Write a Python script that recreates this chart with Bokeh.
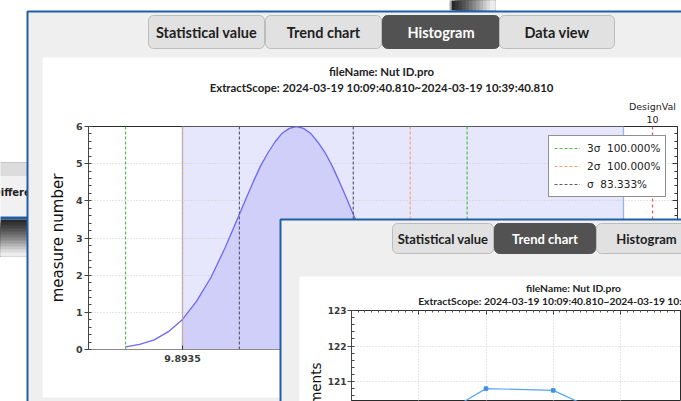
import math
from bokeh.plotting import figure
from bokeh.models import (Range1d, BoxAnnotation, Label, Legend, LegendItem,
                          FixedTicker, SingleIntervalTicker, LinearAxis)
from bokeh.embed import file_html
from bokeh.resources import INLINE

# ---------------- data ----------------
MAIN_TABS = ["Statistical value", "Trend chart", "Histogram", "Data view"]
MAIN_ACTIVE = "Histogram"
TREND_TABS = ["Statistical value", "Trend chart", "Histogram"]
TREND_ACTIVE = "Trend chart"
FILE_NAME = "fileName: Nut ID.pro"
EXTRACT_SCOPE = "ExtractScope: 2024-03-19 10:09:40.810~2024-03-19 10:39:40.810"
SIDE_WINDOW_TEXT = "Difference"

curve_x = [9.8806, 9.8838, 9.8871, 9.8903, 9.8935, 9.8967, 9.9000, 9.9032, 9.9064,
           9.9080, 9.9096, 9.9112, 9.9129, 9.9145, 9.9161, 9.9177, 9.9193,
           9.9209, 9.9225, 9.9241, 9.9258, 9.9274, 9.9290, 9.9306, 9.9322,
           9.9354, 9.9387, 9.9419, 9.9451, 9.9483, 9.9516, 9.9548, 9.9580]
curve_y = [0.07, 0.14, 0.26, 0.48, 0.81, 1.30, 1.95, 2.75, 3.64,
           4.09, 4.53, 4.94, 5.30, 5.59, 5.82, 5.95, 6.00,
           5.95, 5.82, 5.59, 5.30, 4.94, 4.53, 4.09, 3.64,
           2.75, 1.95, 1.30, 0.81, 0.48, 0.26, 0.14, 0.07]
LSL = 9.8935
USL = 9.9935
DESIGN_VAL = 10
sigma_names = ["3σ", "2σ", "σ"]
sigma_lines = [[9.8806, 9.9580], [9.8935, 9.9451], [9.9064, 9.9322]]
sigma_pct = ["100.000%", "100.000%", "83.333%"]
hist_x_ticks = [9.8935]
hist_y_label = "measure number"

trend_x = [1, 2, 3, 4]
trend_y = [119.69, 120.80, 120.75, 119.88]
trend_y_label = "measurements"

# ---------------- styles ----------------
W, H = 681, 401
BLUE = "#1f5ea6"
WIN_BG = "#efefef"
TAB_FILL = "#e1e1e1"
TAB_LINE = "#bcbcbc"
TAB_ACTIVE = "#525252"
UI_FONT = "Lato"
NUM_FONT = "DejaVu Sans"
SIGMA_COLORS = ["#4cbf4c", "#f5a36e", "#5c5c6e"]
SHADE = ["#2a2a2a", "#363636", "#444444", "#535353", "#646464", "#767676",
         "#898989", "#9d9d9d", "#b2b2b2", "#c7c7c7", "#dbdbdb", "#ececec"]
ABS = {"position": "absolute", "left": "0px", "top": "0px"}


def canvas_figure(fill_white=False):
    """A full-window figure whose frame covers the canvas (page pixel coordinates)."""
    f = figure(width=W, height=H, output_backend="svg", toolbar_location=None, title=None,
               x_range=Range1d(0, W), y_range=Range1d(H, 0), min_border=0,
               x_axis_location=None, y_axis_location=None)
    f.grid.visible = False
    f.outline_line_color = None
    f.border_fill_alpha = 0
    f.background_fill_color = "white"
    f.background_fill_alpha = 1 if fill_white else 0
    f.styles = dict(ABS)
    return f


def box(fig, l, r, t, b, fill, line=None, lw=1, radius=0, level="annotation"):
    fig.add_layout(BoxAnnotation(left=l, right=r, top=t, bottom=b,
                                 fill_color=fill, fill_alpha=1,
                                 line_color=line, line_width=lw, line_alpha=1,
                                 level=level, border_radius=radius))


def label(fig, x, y, text, size, color="#1e1e1e", font=UI_FONT, style="normal",
          align="center", baseline="middle", xr="default", angle=0):
    fig.add_layout(Label(x=x, y=y, x_range_name=xr, text=text,
                         text_font=font, text_font_size=f"{size}px", text_font_style=style,
                         text_color=color, text_align=align, text_baseline=baseline,
                         angle=angle))


def tabs(fig, names, active_name, lefts, rights, top, bottom, size):
    for name, l, r in zip(names, lefts, rights):
        active = name == active_name
        box(fig, l, r, top, bottom, TAB_ACTIVE if active else TAB_FILL,
            TAB_ACTIVE if active else TAB_LINE, 1, 5)
        cx = (l + r) / 2 if r < W else l + 50
        label(fig, cx, (top + bottom) / 2, name, size,
              "white" if active else "#1e1e1e", UI_FONT, "bold")


# ---------------- layer 1: windows behind + main window chrome ----------------
bg = canvas_figure(fill_white=True)
# hist data mapping expressed over the whole window (for the DesignVal caption)
bg.extra_x_ranges = {"hx": Range1d(9.85226, 10.00658)}

box(bg, -20, 27, 162, 175, "#dcdcdc", "#c6c6c6")
box(bg, -20, 27, 175, 216, "#f1f1f1")
label(bg, -8, 192, SIDE_WINDOW_TEXT, 10, "#222", NUM_FONT, "bold", align="left")
box(bg, -20, 27, 216, 219, BLUE)
# shadows of the windows behind (nested bands, darkest first)
for i, c in enumerate(SHADE):
    box(bg, -20, 27, 219 + 3 * i, 256, c)
box(bg, 449, 451, -5, 10, "#b0b0b0")
for i, c in enumerate(SHADE):
    box(bg, 451 + 3.5 * i, 495, -5, 10, c)

box(bg, 27, 760, 11, 460, WIN_BG, BLUE, 2)
box(bg, 42, 760, 57, 397, "white")
tabs(bg, MAIN_TABS, MAIN_ACTIVE, [148, 265, 382, 499], [264, 381, 499, 614], 15, 48, 14.5)
label(bg, 381, 71, FILE_NAME, 11.4, "#222", UI_FONT, "bold")
label(bg, 381, 87, EXTRACT_SCOPE, 11.4, "#222", UI_FONT, "bold")
label(bg, DESIGN_VAL, 106, "DesignVal", 9.5, "#222", NUM_FONT, xr="hx")
label(bg, DESIGN_VAL, 119, f"{DESIGN_VAL}", 9.5, "#222", NUM_FONT, xr="hx")

# ---------------- layer 2: histogram chart ----------------
p = figure(width=W, height=H, output_backend="svg", toolbar_location=None, title=None,
           x_range=Range1d(9.8722, 10.00567), y_range=Range1d(0, 6),
           min_border_left=88, min_border_right=4, min_border_top=126, min_border_bottom=52)
p.styles = dict(ABS)
p.border_fill_alpha = 0
p.background_fill_color = "white"
p.outline_line_color = "#2a2a2a"

p.add_layout(BoxAnnotation(left=LSL, right=USL, fill_color="#e6e6fd", fill_alpha=1,
                           line_color=None, level="image"))
p.xgrid.visible = False
p.ygrid.grid_line_color = "#cdcdcd"
p.ygrid.grid_line_dash = "1 2"

fx = [x for x in curve_x if x >= LSL]
fy = [y for x, y in zip(curve_x, curve_y) if x >= LSL]
p.varea(x=fx, y1=[0] * len(fx), y2=fy, fill_color="#cfcff9", fill_alpha=1)
p.vspan(x=[LSL, USL], line_color="#92b9ee", line_width=1.3)
p.line(curve_x, curve_y, line_color="#6a6af2", line_width=1.3)

legend_items = []
for name, xs, pct, col in zip(sigma_names, sigma_lines, sigma_pct, SIGMA_COLORS):
    r = p.segment(x0=xs, x1=xs, y0=[0] * len(xs), y1=[6] * len(xs),
                  line_color=col, line_width=1.2, line_dash="3 2")
    legend_items.append(LegendItem(label=f"{name}  {pct}", renderers=[r]))
p.vspan(x=[DESIGN_VAL], line_color="#f05656", line_width=1.2, line_dash="3 3")

legend = Legend(items=legend_items, location=(460, 152), orientation="vertical")
legend.label_text_font = NUM_FONT
legend.label_text_font_size = "10.5px"
legend.label_text_color = "#222"
legend.glyph_width = 26
legend.glyph_height = 14
legend.label_height = 14
legend.label_standoff = 7
legend.spacing = 4
legend.padding = 5
legend.margin = 0
legend.border_line_color = "#222"
legend.border_line_width = 1
legend.background_fill_color = "white"
legend.background_fill_alpha = 1
p.add_layout(legend)

ya = p.yaxis[0]
ya.ticker = SingleIntervalTicker(interval=1, num_minor_ticks=5)
ya.axis_line_color = "#444"
ya.major_tick_line_color = "#444"
ya.minor_tick_line_color = "#444"
ya.major_tick_out = 4
ya.major_tick_in = 0
ya.minor_tick_in = 3
ya.minor_tick_out = 0
ya.major_label_standoff = 2
ya.major_label_text_font = NUM_FONT
ya.major_label_text_font_size = "9.5px"
ya.major_label_text_font_style = "bold"
ya.major_label_text_color = "#3a3a3a"
ya.axis_label = hist_y_label
ya.axis_label_text_font = NUM_FONT
ya.axis_label_text_font_size = "15px"
ya.axis_label_text_font_style = "normal"
ya.axis_label_text_color = "#111"
ya.axis_label_standoff = 6

ra = LinearAxis(ticker=SingleIntervalTicker(interval=1, num_minor_ticks=5))
ra.axis_line_color = "#333"
ra.major_tick_in = 5
ra.major_tick_out = 0
ra.minor_tick_in = 3
ra.minor_tick_out = 0
ra.major_tick_line_color = "#333"
ra.minor_tick_line_color = "#333"
ra.major_label_standoff = 0
ra.major_label_text_font_size = "1px"
ra.major_label_text_color = None
p.add_layout(ra, "right")

xa = p.xaxis[0]
xa.ticker = FixedTicker(ticks=hist_x_ticks, minor_ticks=[])
xa.major_label_overrides = {hist_x_ticks[0]: f"{hist_x_ticks[0]:.4f}"}
xa.axis_line_color = "#8a8a8a"
xa.major_tick_line_color = "#333"
xa.major_tick_in = 4
xa.major_tick_out = 0
xa.major_label_standoff = 5
xa.major_label_text_font = NUM_FONT
xa.major_label_text_font_size = "9.5px"
xa.major_label_text_font_style = "bold"
xa.major_label_text_color = "#3a3a3a"

# ---------------- layer 3: trend window chrome ----------------
tw = canvas_figure()
box(tw, 280, 760, 219, 460, WIN_BG, BLUE, 2)
box(tw, 299, 760, 276, 460, "white")
tabs(tw, TREND_TABS, TREND_ACTIVE, [392, 494, 596], [493, 595, 760], 223, 253, 13)
label(tw, 573, 287, FILE_NAME, 10.3, "#222", UI_FONT, "bold")
label(tw, 573, 300, EXTRACT_SCOPE, 10.3, "#222", UI_FONT, "bold")
label(tw, 315, 362, trend_y_label, 13.5, "#111", NUM_FONT, align="right",
      angle=math.pi / 2)

# ---------------- layer 4: trend chart ----------------
p2 = figure(width=W, height=H, output_backend="svg", toolbar_location=None, title=None,
            x_range=Range1d(0, 4.907), y_range=Range1d(120.437, 123),
            x_axis_location="above",
            min_border_left=351, min_border_right=0, min_border_top=310, min_border_bottom=0)
p2.styles = dict(ABS)
p2.border_fill_alpha = 0
p2.background_fill_color = "white"
p2.outline_line_color = "#2a2a2a"

p2.xgrid.ticker = SingleIntervalTicker(interval=1)
for g in (p2.xgrid, p2.ygrid):
    g.grid_line_color = "#cdcdcd"
    g.grid_line_dash = "1 2"

p2.line(trend_x, trend_y, line_color="#5aa6f2", line_width=1.2)
p2.scatter(trend_x, trend_y, marker="square", size=3.5, fill_color="#3d8fe8",
           line_color="#3d8fe8")

ta = p2.xaxis[0]
ta.ticker = SingleIntervalTicker(interval=1, num_minor_ticks=10)
ta.major_label_text_font_size = "1px"
ta.major_label_text_color = None
ta.major_label_standoff = 0
ta.axis_line_color = "#333"
ta.major_tick_in = 4
ta.major_tick_out = 0
ta.minor_tick_in = 2
ta.minor_tick_out = 0
ta.major_tick_line_color = "#333"
ta.minor_tick_line_color = "#555"

la = p2.yaxis[0]
la.ticker = SingleIntervalTicker(interval=1, num_minor_ticks=5)
la.axis_line_color = "#444"
la.major_tick_line_color = "#444"
la.minor_tick_line_color = "#444"
la.major_tick_out = 4
la.major_tick_in = 0
la.minor_tick_in = 3
la.minor_tick_out = 0
la.major_label_standoff = 1
la.major_label_text_font = NUM_FONT
la.major_label_text_font_size = "9px"
la.major_label_text_font_style = "bold"
la.major_label_text_color = "#3a3a3a"

open("out.html", "w").write(file_html([bg, p, tw, p2], INLINE))
